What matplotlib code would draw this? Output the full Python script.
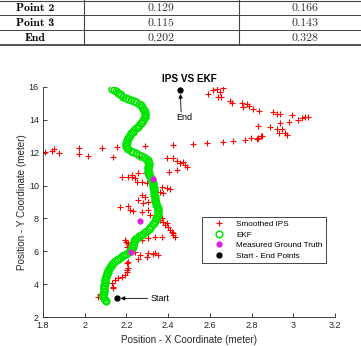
import matplotlib
matplotlib.use("Agg")
import matplotlib.pyplot as plt
from matplotlib.lines import Line2D

# ---------------- data ----------------
table_rows = ["Point 2", "Point 3", "End"]
table_col1 = ["0.129", "0.115", "0.202"]
table_col2 = ["0.166", "0.143", "0.328"]

ips_x = [1.810, 1.842, 1.853, 1.878, 1.973, 1.973, 2.017, 2.081, 2.137, 2.156, 2.262, 2.289,
         2.425, 2.520, 2.585, 2.664, 2.712, 2.768, 2.796, 2.824, 2.848, 2.832,
         2.592, 2.616, 2.636, 2.649, 2.664, 2.640, 2.652, 2.696, 2.705, 2.753, 2.760, 2.779,
         2.789, 2.808, 2.837, 2.904, 2.923, 2.936, 2.992, 2.980, 3.024, 3.040, 3.056, 3.072,
         2.936, 2.923, 2.944, 2.933, 2.960, 2.968, 2.832, 2.888, 2.844,
         2.393, 2.425, 2.441, 2.457, 2.473, 2.489, 2.441, 2.404, 2.481,
         2.177, 2.209, 2.228, 2.241, 2.257, 2.249, 2.273, 2.297, 2.289, 2.225,
         2.369, 2.361, 2.393, 2.409, 2.377,
         2.273, 2.289, 2.281, 2.305, 2.257,
         2.169, 2.209, 2.217, 2.233, 2.305, 2.273, 2.313,
         2.369, 2.377, 2.385, 2.401, 2.409, 2.425, 2.433, 2.361, 2.393, 2.417, 2.425,
         2.193, 2.209, 2.201, 2.273, 2.305, 2.337, 2.369, 2.197,
         2.241, 2.265, 2.305, 2.337, 2.353, 2.297, 2.257, 2.329,
         2.201, 2.209, 2.209, 2.201, 2.201, 2.193, 2.177, 2.161, 2.145, 2.129, 2.137, 2.137,
         2.073, 2.065, 2.080]
ips_y = [12.05, 12.12, 12.20, 11.96, 12.26, 11.90, 11.81, 12.30, 11.75, 12.32, 11.75, 12.42,
         12.46, 12.50, 12.60, 12.66, 12.72, 12.77, 12.87, 12.83, 13.01, 12.87,
         15.56, 15.80, 15.84, 15.70, 15.90, 15.39, 15.39, 15.15, 15.03, 15.03, 14.75, 14.95,
         14.83, 14.63, 14.54, 14.48, 14.34, 14.34, 14.28, 13.88, 13.98, 14.08, 14.14, 14.14,
         13.78, 13.41, 13.41, 13.17, 13.21, 13.07, 13.62, 13.57, 13.01,
         11.65, 11.65, 11.51, 11.35, 11.45, 11.14, 10.94, 10.80, 11.25,
         10.54, 10.54, 10.64, 10.44, 10.74, 10.23, 10.23, 10.17, 10.74, 10.50,
         9.93, 9.63, 9.83, 9.77, 9.57,
         9.43, 9.32, 8.92, 9.02, 9.12,
         8.72, 8.76, 8.51, 8.47, 8.51, 8.41, 8.21,
         8.01, 7.80, 7.60, 7.50, 7.30, 7.10, 6.89, 7.91, 7.71, 7.20, 7.00,
         6.69, 6.49, 6.29, 6.69, 6.80, 6.89, 6.89, 6.55,
         5.98, 5.78, 5.89, 5.92, 5.78, 5.64, 5.56, 5.85,
         5.28, 5.38, 4.98, 4.87, 4.77, 4.57, 4.47, 4.37, 4.26, 4.06, 3.86, 3.76,
         3.40, 3.25, 3.35]

ekf_x = [2.100, 2.095, 2.092, 2.090, 2.089, 2.090, 2.091, 2.092, 2.092, 2.093, 2.093, 2.094,
         2.095, 2.096, 2.097, 2.098, 2.100, 2.102, 2.105, 2.108, 2.111, 2.114, 2.117, 2.120,
         2.124, 2.130, 2.137, 2.145, 2.153, 2.161, 2.170, 2.180, 2.190, 2.200, 2.210, 2.218,
         2.224, 2.228, 2.230, 2.231, 2.232, 2.234, 2.238, 2.243, 2.250, 2.259, 2.269, 2.280,
         2.290, 2.299, 2.307, 2.314, 2.320, 2.326, 2.331, 2.336, 2.340, 2.344, 2.347, 2.350,
         2.352, 2.353, 2.352, 2.350, 2.347, 2.344, 2.341, 2.339, 2.337, 2.336, 2.335, 2.334,
         2.333, 2.332, 2.331, 2.330, 2.329, 2.327, 2.325, 2.323, 2.321, 2.318, 2.314, 2.310,
         2.307, 2.305, 2.304, 2.304, 2.305, 2.306, 2.306, 2.305, 2.302, 2.295, 2.285, 2.272,
         2.258, 2.245, 2.232, 2.220, 2.209, 2.201, 2.197, 2.196, 2.198, 2.201, 2.205, 2.209,
         2.213, 2.218, 2.224, 2.231, 2.238, 2.246, 2.254, 2.262, 2.269, 2.275, 2.280, 2.284,
         2.287, 2.288, 2.288, 2.287, 2.285, 2.281, 2.276, 2.268, 2.258, 2.247, 2.235, 2.222,
         2.208, 2.196, 2.185, 2.176, 2.168, 2.160, 2.152, 2.140, 2.130]
ekf_y = [3.00, 3.08, 3.16, 3.25, 3.34, 3.43, 3.52, 3.61, 3.70, 3.79, 3.88, 3.97,
         4.06, 4.15, 4.24, 4.33, 4.42, 4.51, 4.60, 4.69, 4.78, 4.87, 4.96, 5.05,
         5.14, 5.23, 5.31, 5.39, 5.47, 5.55, 5.63, 5.71, 5.79, 5.87, 5.95, 6.03,
         6.11, 6.20, 6.29, 6.38, 6.47, 6.56, 6.65, 6.74, 6.83, 6.91, 6.99, 7.07,
         7.16, 7.25, 7.34, 7.44, 7.54, 7.64, 7.74, 7.84, 7.94, 8.04, 8.14, 8.24,
         8.34, 8.44, 8.54, 8.64, 8.74, 8.84, 8.94, 9.04, 9.14, 9.24, 9.34, 9.44,
         9.54, 9.64, 9.74, 9.84, 9.94, 10.04, 10.14, 10.24, 10.34, 10.44, 10.54, 10.64,
         10.74, 10.84, 10.94, 11.04, 11.14, 11.24, 11.34, 11.44, 11.54, 11.63, 11.72, 11.80,
         11.88, 11.96, 12.04, 12.12, 12.20, 12.29, 12.38, 12.47, 12.57, 12.67, 12.77, 12.87,
         12.97, 13.07, 13.17, 13.27, 13.37, 13.47, 13.57, 13.67, 13.77, 13.87, 13.97, 14.07,
         14.17, 14.27, 14.37, 14.47, 14.57, 14.67, 14.77, 14.87, 14.96, 15.05, 15.13, 15.20,
         15.26, 15.32, 15.40, 15.48, 15.56, 15.64, 15.74, 15.82, 15.86]

truth_x = [2.329, 2.265, 2.220]
truth_y = [10.40, 7.87, 5.95]

se_x = [2.153, 2.457]
se_y = [3.15, 15.78]

xticks = [1.8, 2, 2.2, 2.4, 2.6, 2.8, 3, 3.2]
yticks = [2, 4, 6, 8, 10, 12, 14, 16]

# ---------------- figure ----------------
W, H = 361, 346
fig = plt.figure(figsize=(W / 100, H / 100), dpi=100)
sans = ["Liberation Sans", "DejaVu Sans"]
plt.rcParams["font.family"] = sans


def fx(px):
    return px / W


def fy(py):
    return 1 - py / H


# ----- table fragment at the top -----
tc = "#444444"
for py, lw in [(0.6, 0.8), (15, 0.7), (30, 0.7), (45, 1.3)]:
    fig.add_artist(Line2D([0, 1], [fy(py), fy(py)], transform=fig.transFigure,
                          color=tc, lw=lw))
for px in [84, 238.5]:
    fig.add_artist(Line2D([fx(px), fx(px)], [fy(0), fy(45)], transform=fig.transFigure,
                          color=tc, lw=0.8))
for i, (r, a, b) in enumerate(zip(table_rows, table_col1, table_col2)):
    yy = fy(7.8 + 15 * i)
    fig.text(fx(35), yy, r, ha="center", va="center", fontsize=8.5,
             family=["cmb10", "DejaVu Serif"])
    fig.text(fx(161), yy, a, ha="center", va="center", fontsize=8.5,
             family=["cmr10", "DejaVu Serif"], color="#333333")
    fig.text(fx(305), yy, b, ha="center", va="center", fontsize=8.5,
             family=["cmr10", "DejaVu Serif"], color="#333333")

# ----- axes -----
ax = fig.add_axes([fx(43), fy(317.3), fx(335) - fx(43), fy(86.7) - fy(317.3)])
ax.plot(ips_x, ips_y, linestyle="none", marker="+", color="#ff0000",
        markeredgecolor="#ff0000", markersize=4.6, markeredgewidth=0.8,
        label="Smoothed IPS", zorder=2)
ax.plot(ekf_x, ekf_y, linestyle="none", marker="o", color="#00e600",
        markeredgecolor="#00e600", markerfacecolor="none", markersize=4.8,
        markeredgewidth=1.1, label="EKF", zorder=3)
ax.plot(truth_x, truth_y, linestyle="none", marker="o", color="#e020e0", markersize=3.5,
        label="Measured Ground Truth", zorder=4)
ax.plot(se_x, se_y, linestyle="none", marker="o", color="black", markersize=3.5,
        label="Start - End Points", zorder=5)

ax.set_xlim(1.8, 3.2)
ax.set_ylim(2, 16)
ax.set_xticks(xticks)
ax.set_yticks(yticks)
ax.set_xticklabels([f"{v:g}" for v in xticks])
ax.set_yticklabels([f"{v:g}" for v in yticks])
for s in ["top", "right"]:
    ax.spines[s].set_visible(False)
for s in ["left", "bottom"]:
    ax.spines[s].set_color("#262626")
    ax.spines[s].set_linewidth(0.6)
ax.tick_params(direction="in", length=3, width=0.6, colors="#262626", labelsize=6.5, pad=3)
ax.set_xlabel("Position - X Coordinate (meter)", fontsize=7.15, color="#262626", labelpad=3)
ax.set_ylabel("Position - Y Coordinate (meter)", fontsize=7.15, color="#262626", labelpad=1)
fig.text(fx(189), fy(78.5), "IPS VS EKF", ha="center", va="center", fontsize=7.2,
         fontweight="bold")

# annotations
ax.annotate("", xy=(2.172, 3.15), xytext=(2.302, 3.15),
            arrowprops=dict(arrowstyle="-|>", color="black", lw=0.6, mutation_scale=6,
                            shrinkA=0, shrinkB=0))
ax.text(2.316, 3.15, "Start", ha="left", va="center", fontsize=6.5)
ax.annotate("", xy=(2.459, 15.56), xytext=(2.462, 14.47),
            arrowprops=dict(arrowstyle="-|>", color="black", lw=0.6, mutation_scale=6,
                            shrinkA=0, shrinkB=0))
ax.text(2.476, 14.14, "End", ha="center", va="center", fontsize=6.5)

leg = ax.legend(loc="upper left", bbox_to_anchor=(fx(201.7), fy(216.7)),
                bbox_transform=fig.transFigure, borderaxespad=0, fontsize=5.85,
                fancybox=False, edgecolor="#262626", framealpha=1, handlelength=3.4,
                handletextpad=0.4, labelspacing=0.35, borderpad=0.45, numpoints=1)
leg.get_frame().set_linewidth(0.6)

fig.savefig("out.png", dpi=100)
